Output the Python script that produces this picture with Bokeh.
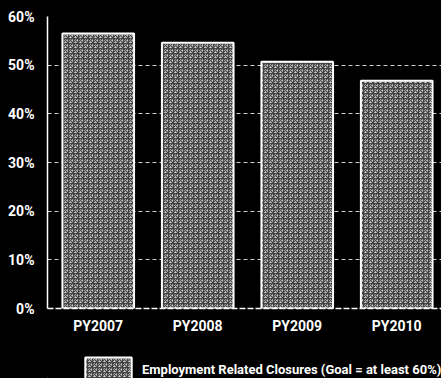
from bokeh.plotting import figure
from bokeh.layouts import column
from bokeh.models import (ColumnDataSource, Range1d, FixedTicker, Legend, LegendItem)
from bokeh.embed import file_html
from bokeh.resources import INLINE

# Program years and share of employment-related closures (%)
years = ["PY2007", "PY2008", "PY2009", "PY2010"]
closure_pct = [56.5, 54.6, 50.7, 46.8]
y_ticks = [0, 10, 20, 30, 40, 50, 60]
y_tick_labels = ["0%", "10%", "20%", "30%", "40%", "50%", "60%"]
series_name = "Employment Related Closures (Goal = at least 60%)"

FONT = "Roboto"
BAR_STYLE = dict(fill_color="#cfcfcf", line_color="white", line_width=2,
                 hatch_pattern="criss_cross", hatch_color="#151515",
                 hatch_scale=5, hatch_weight=1.2, hatch_alpha=0.75)

xpos = list(range(len(years)))
src = ColumnDataSource(dict(x=xpos, top=closure_pct, label=years))

p = figure(width=441, height=338, output_backend="svg", toolbar_location=None,
           x_range=Range1d(-0.51, 3.45), y_range=Range1d(0, 60),
           background_fill_color="black", border_fill_color="black",
           min_border_left=47, min_border_right=0, min_border_top=16,
           min_border_bottom=30, outline_line_color=None)

bars = p.vbar(x="x", top="top", width=0.72, bottom=0, source=src, **BAR_STYLE)

# axes
p.xaxis.ticker = FixedTicker(ticks=xpos)
p.xaxis.major_label_overrides = {i: y for i, y in enumerate(years)}
p.yaxis.ticker = FixedTicker(ticks=y_ticks)
p.yaxis.major_label_overrides = {t: l for t, l in zip(y_ticks, y_tick_labels)}

for ax in (p.xaxis, p.yaxis):
    ax.axis_line_color = "white"
    ax.axis_line_width = 1.5
    ax.major_tick_line_color = None
    ax.minor_tick_line_color = None
    ax.major_label_text_color = "white"
    ax.major_label_text_font = FONT
    ax.major_label_text_font_style = "bold"

p.xaxis.major_label_text_font_size = "14px"
p.yaxis.major_label_text_font_size = "14px"
p.xaxis.major_label_standoff = 3
p.yaxis.major_label_standoff = 7
p.xaxis.axis_line_dash = "6 2"

p.xgrid.grid_line_color = None
p.ygrid.grid_line_color = "#d0d0d0"
p.ygrid.grid_line_dash = "4 3"
p.ygrid.grid_line_width = 1.2

# legend strip underneath the chart; its key reuses the bar styling,
# while the key renderer itself sits outside the strip's visible range
leg = figure(width=441, height=40, output_backend="svg", toolbar_location=None,
             x_axis_type=None, y_axis_type=None,
             x_range=Range1d(10, 11), y_range=Range1d(200, 201),
             background_fill_color="black", border_fill_color="black",
             min_border=0, outline_line_color=None)
key_src = ColumnDataSource(dict(x=xpos[:1], top=closure_pct[:1]))
swatch = leg.vbar(x="x", top="top", width=0.1, source=key_src, **BAR_STYLE)

legend = Legend(items=[LegendItem(label=series_name, renderers=[swatch])],
                orientation="horizontal", location=(32, -6),
                background_fill_alpha=0, border_line_color=None,
                label_text_color="white", label_text_font=FONT,
                label_text_font_style="bold", label_text_font_size="13px",
                glyph_width=58, glyph_height=30, label_standoff=5,
                padding=0, margin=0, spacing=0)
leg.add_layout(legend, "center")

layout = column(p, leg, spacing=0, background="black")
open("out.html", "w").write(file_html(layout, INLINE))
